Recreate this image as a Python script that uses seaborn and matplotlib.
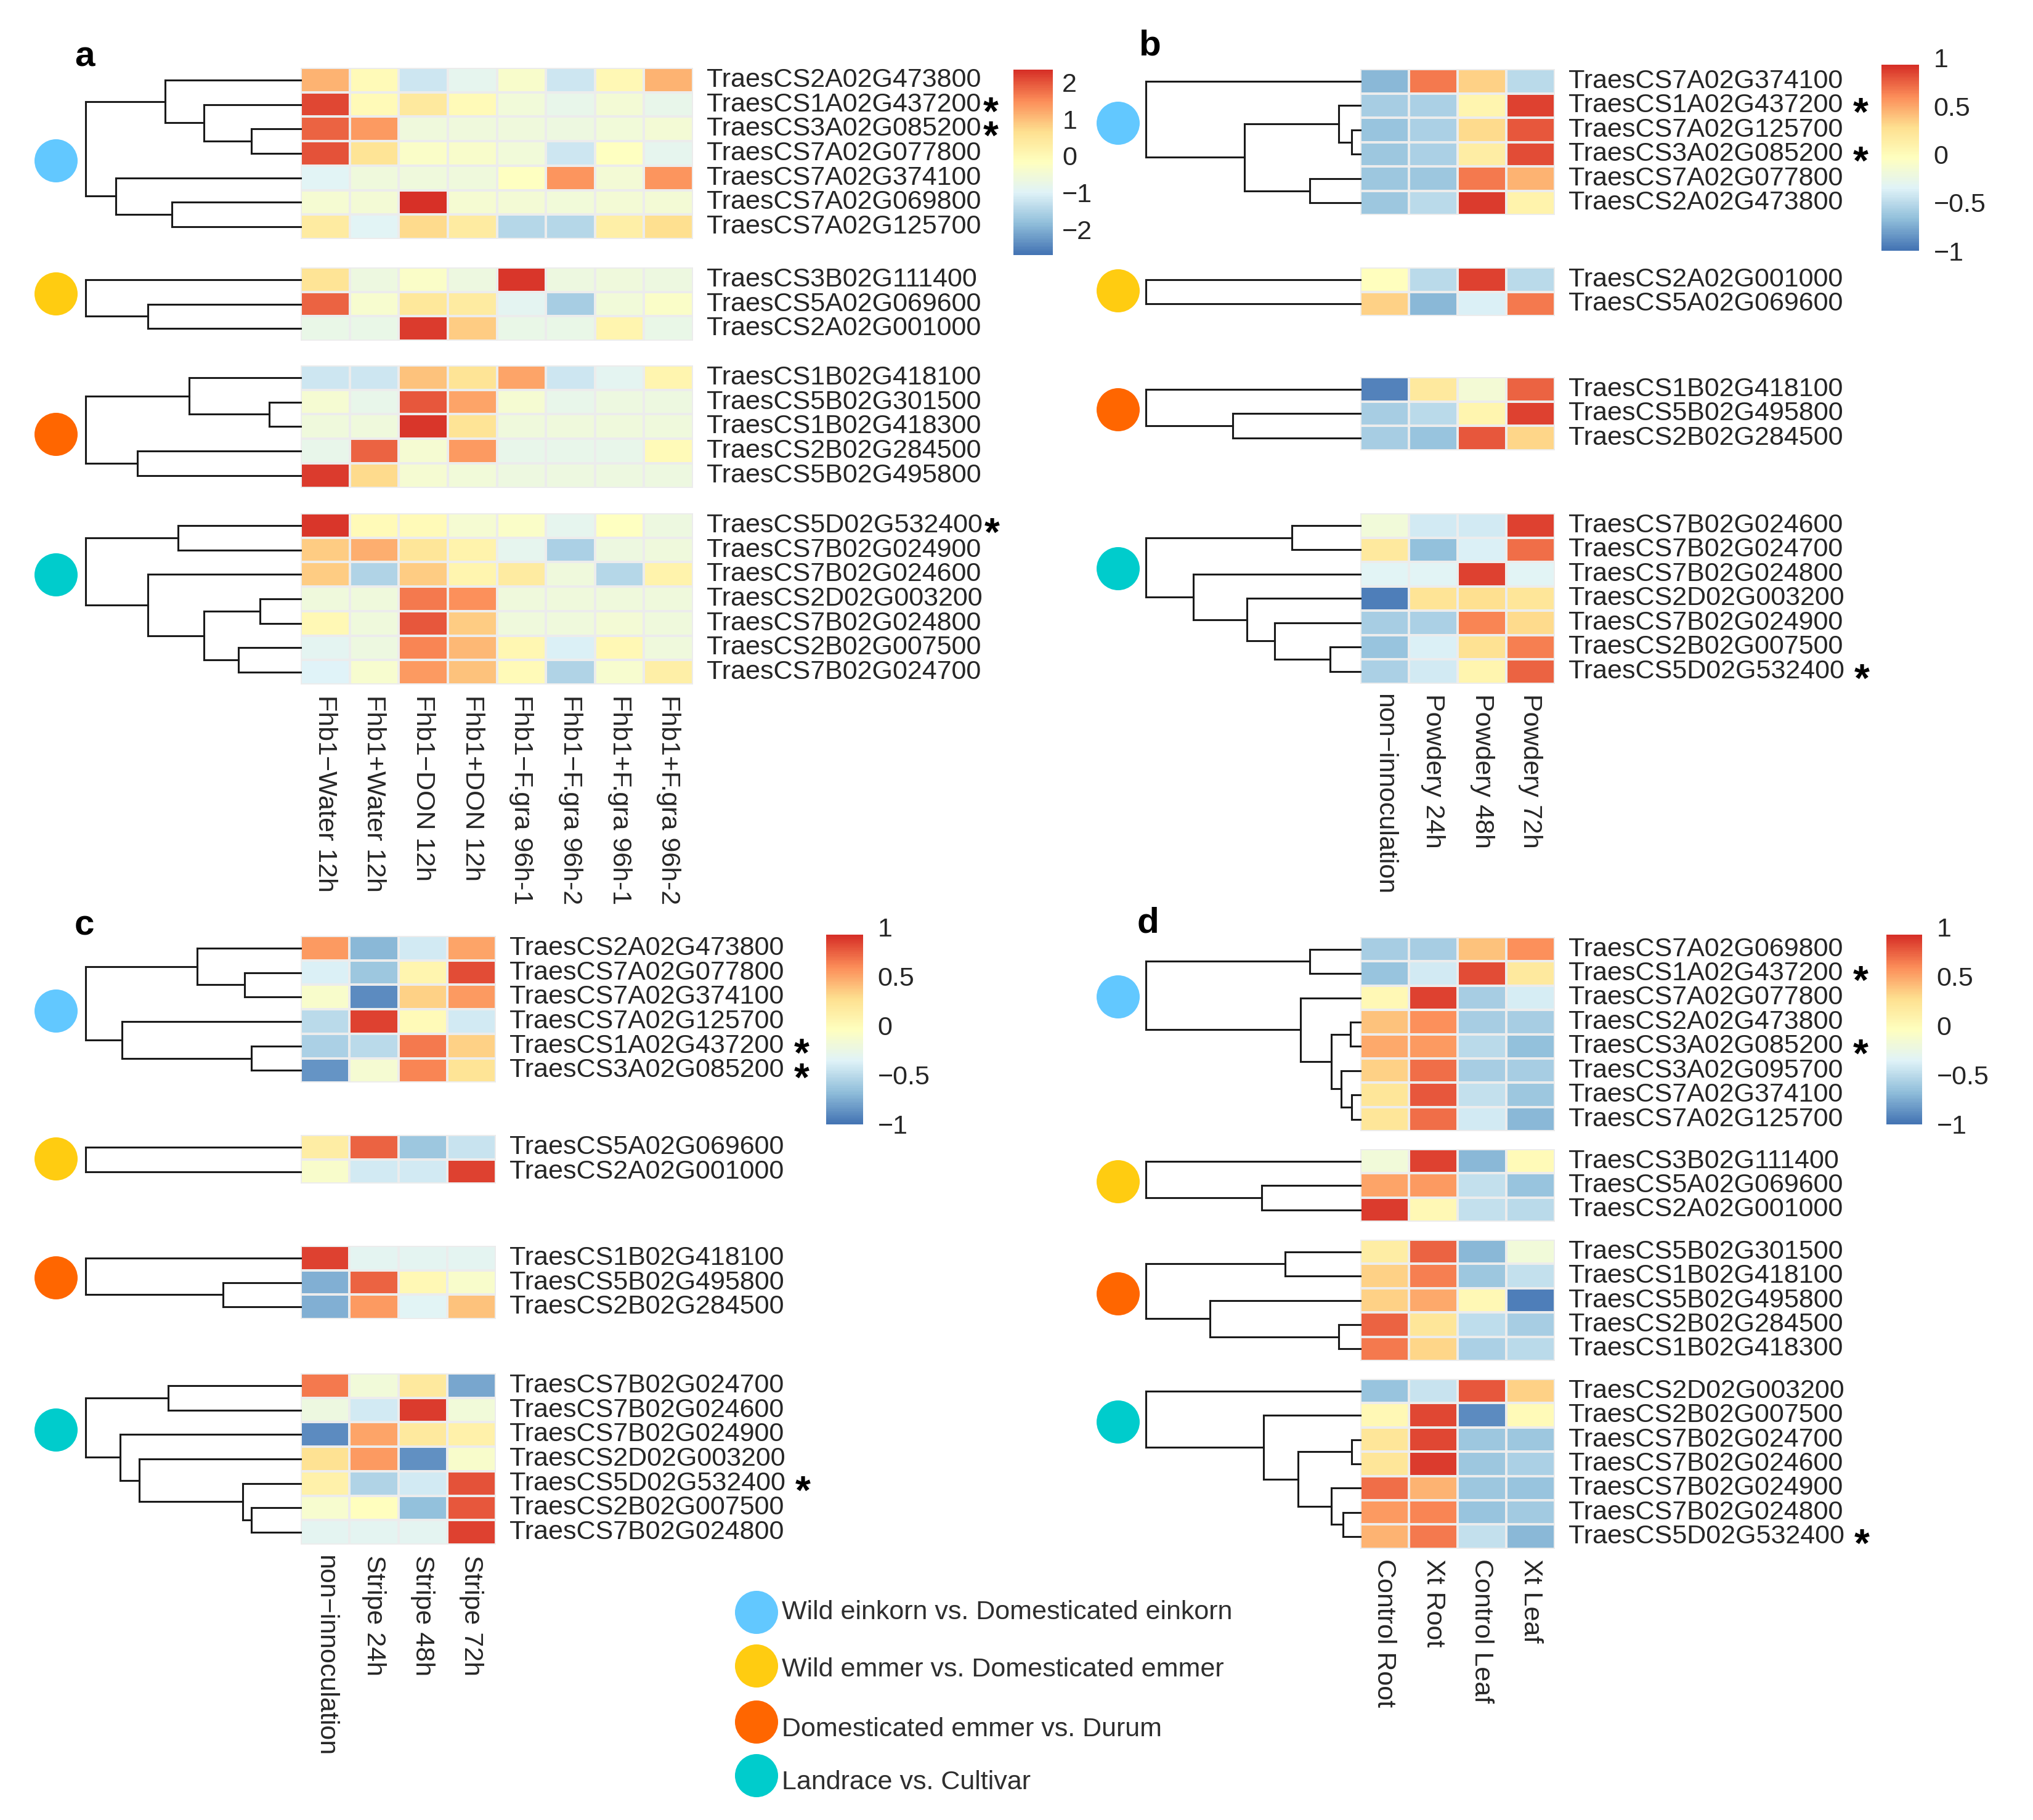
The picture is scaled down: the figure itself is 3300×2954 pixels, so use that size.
import numpy as np
import pandas as pd
import matplotlib
matplotlib.use("Agg")
import matplotlib.pyplot as plt
import seaborn as sns
from matplotlib.colors import LinearSegmentedColormap
from matplotlib.patches import Circle
from matplotlib.font_manager import FontProperties

# ---------------- data ----------------
a_cols = ["Fhb1\u2212Water 12h", "Fhb1+Water 12h", "Fhb1\u2212DON 12h", "Fhb1+DON 12h",
          "Fhb1\u2212F.gra 96h-1", "Fhb1\u2212F.gra 96h-2", "Fhb1+F.gra 96h-1", "Fhb1+F.gra 96h-2"]
b_cols = ["non\u2212innoculation", "Powdery 24h", "Powdery 48h", "Powdery 72h"]
c_cols = ["non\u2212innoculation", "Stripe 24h", "Stripe 48h", "Stripe 72h"]
d_cols = ["Control Root", "Xt Root", "Control Leaf", "Xt Leaf"]

starred = ["TraesCS1A02G437200", "TraesCS3A02G085200", "TraesCS5D02G532400"]

# panel a
a_genes_1 = ["TraesCS2A02G473800", "TraesCS1A02G437200", "TraesCS3A02G085200", "TraesCS7A02G077800",
             "TraesCS7A02G374100", "TraesCS7A02G069800", "TraesCS7A02G125700"]
a_vals_1 = [[1.09, -0.07, -1.19, -0.88, -0.33, -1.19, -0.02, 1.09],
            [2.10, -0.07, 0.43, -0.07, -0.53, -0.83, -0.48, -0.83],
            [1.85, 1.34, -0.58, -0.58, -0.58, -0.68, -0.53, -0.48],
            [2.00, 0.58, -0.28, -0.33, -0.53, -1.19, -0.18, -0.88],
            [-0.98, -0.58, -0.58, -0.58, -0.18, 1.44, -0.48, 1.44],
            [-0.43, -0.48, 2.35, -0.43, -0.48, -0.53, -0.48, -0.48],
            [0.33, -0.98, 0.73, 0.33, -1.44, -1.44, 0.23, 0.68]]
a_tree_1 = [(2, 3, 0.23), (1, 7, 0.45), (0, 8, 0.63), (5, 6, 0.60), (4, 10, 0.86), (9, 11, 1.0)]

a_genes_2 = ["TraesCS3B02G111400", "TraesCS5A02G069600", "TraesCS2A02G001000"]
a_vals_2 = [[0.58, -0.68, -0.28, -0.68, 2.25, -0.68, -0.58, -0.63],
            [1.85, -0.38, 0.48, 0.33, -0.93, -1.59, -0.53, -0.28],
            [-0.78, -0.78, 2.20, 0.84, -0.78, -0.78, 0.08, -0.78]]
a_tree_2 = [(1, 2, 0.71), (0, 3, 1.0)]

a_genes_3 = ["TraesCS1B02G418100", "TraesCS5B02G301500", "TraesCS1B02G418300",
             "TraesCS2B02G284500", "TraesCS5B02G495800"]
a_vals_3 = [[-1.19, -1.19, 0.94, 0.58, 1.24, -1.19, -0.93, 0.08],
            [-0.43, -0.83, 1.95, 1.24, -0.43, -0.83, -0.68, -0.63],
            [-0.58, -0.58, 2.25, 0.58, -0.58, -0.58, -0.58, -0.58],
            [-0.83, 1.85, -0.43, 1.34, -0.83, -0.83, -0.83, -0.07],
            [2.20, 0.73, -0.43, -0.53, -0.68, -0.68, -0.68, -0.68]]
a_tree_3 = [(1, 2, 0.146), (0, 5, 0.52), (3, 4, 0.76), (6, 7, 1.0)]

a_genes_4 = ["TraesCS5D02G532400", "TraesCS7B02G024900", "TraesCS7B02G024600", "TraesCS2D02G003200",
             "TraesCS7B02G024800", "TraesCS2B02G007500", "TraesCS7B02G024700"]
a_vals_4 = [[2.25, -0.07, -0.07, -0.43, -0.28, -0.88, -0.18, -0.63],
            [0.84, 1.14, 0.53, 0.13, -0.88, -1.54, -0.68, -0.58],
            [0.84, -1.49, 0.84, 0.08, 0.33, -0.58, -1.44, 0.13],
            [-0.58, -0.58, 1.69, 1.49, -0.58, -0.58, -0.58, -0.58],
            [-0.02, -0.58, 1.95, 0.84, -0.58, -0.58, -0.48, -0.58],
            [-0.93, -0.63, 1.59, 1.04, 0.03, -1.08, -0.02, -0.58],
            [-1.03, -0.38, 1.34, 0.94, -0.07, -1.49, -0.38, 0.23]]
a_tree_4 = [(0, 1, 0.57), (3, 4, 0.19), (5, 6, 0.29), (8, 9, 0.45), (2, 10, 0.71), (7, 11, 1.0)]

# panel b
b_genes_1 = ["TraesCS7A02G374100", "TraesCS1A02G437200", "TraesCS7A02G125700",
             "TraesCS3A02G085200", "TraesCS7A02G077800", "TraesCS2A02G473800"]
b_vals_1 = [[-0.71, 0.67, 0.34, -0.52],
            [-0.58, -0.56, 0.06, 0.86],
            [-0.65, -0.56, 0.29, 0.77],
            [-0.62, -0.56, 0.15, 0.82],
            [-0.62, -0.62, 0.67, 0.44],
            [-0.62, -0.52, 0.88, 0.08]]
b_tree_1 = [(2, 3, 0.04), (1, 6, 0.10), (4, 5, 0.235), (7, 8, 0.54), (0, 9, 1.0)]

b_genes_2 = ["TraesCS2A02G001000", "TraesCS5A02G069600"]
b_vals_2 = [[-0.04, -0.52, 0.86, -0.52],
            [0.34, -0.71, -0.37, 0.67]]
b_tree_2 = [(0, 1, 1.0)]

b_genes_3 = ["TraesCS1B02G418100", "TraesCS5B02G495800", "TraesCS2B02G284500"]
b_vals_3 = [[-0.94, 0.19, -0.17, 0.73],
            [-0.58, -0.52, 0.06, 0.86],
            [-0.58, -0.65, 0.77, 0.31]]
b_tree_3 = [(1, 2, 0.595), (0, 3, 1.0)]

b_genes_4 = ["TraesCS7B02G024600", "TraesCS7B02G024700", "TraesCS7B02G024800", "TraesCS2D02G003200",
             "TraesCS7B02G024900", "TraesCS2B02G007500", "TraesCS5D02G532400"]
b_vals_4 = [[-0.19, -0.42, -0.42, 0.86],
            [0.19, -0.67, -0.37, 0.69],
            [-0.33, -0.33, 0.86, -0.33],
            [-0.96, 0.23, 0.27, 0.21],
            [-0.58, -0.56, 0.63, 0.29],
            [-0.65, -0.37, 0.25, 0.65],
            [-0.56, -0.42, 0.06, 0.73]]
b_tree_4 = [(0, 1, 0.32), (5, 6, 0.14), (4, 8, 0.40), (3, 9, 0.53), (2, 10, 0.78), (7, 11, 1.0)]

# panel c
c_genes_1 = ["TraesCS2A02G473800", "TraesCS7A02G077800", "TraesCS7A02G374100",
             "TraesCS7A02G125700", "TraesCS1A02G437200", "TraesCS3A02G085200"]
c_vals_1 = [[0.54, -0.71, -0.42, 0.50],
            [-0.37, -0.62, 0.06, 0.82],
            [-0.10, -0.90, 0.34, 0.54],
            [-0.52, 0.86, 0.00, -0.42],
            [-0.56, -0.52, 0.67, 0.34],
            [-0.85, -0.14, 0.63, 0.23]]
c_tree_1 = [(1, 2, 0.26), (0, 6, 0.48), (4, 5, 0.23), (3, 8, 0.83), (7, 9, 1.0)]

c_genes_2 = ["TraesCS5A02G069600", "TraesCS2A02G001000"]
c_vals_2 = [[0.15, 0.73, -0.62, -0.46],
            [-0.10, -0.42, -0.42, 0.86]]
c_tree_2 = [(0, 1, 1.0)]

c_genes_3 = ["TraesCS1B02G418100", "TraesCS5B02G495800", "TraesCS2B02G284500"]
c_vals_3 = [[0.86, -0.31, -0.31, -0.31],
            [-0.75, 0.73, 0.02, -0.10],
            [-0.75, 0.54, -0.33, 0.40]]
c_tree_3 = [(1, 2, 0.36), (0, 3, 1.0)]

c_genes_4 = ["TraesCS7B02G024700", "TraesCS7B02G024600", "TraesCS7B02G024900", "TraesCS2D02G003200",
             "TraesCS5D02G532400", "TraesCS2B02G007500", "TraesCS7B02G024800"]
c_vals_4 = [[0.67, -0.19, 0.19, -0.77],
            [-0.23, -0.42, 0.88, -0.19],
            [-0.90, 0.50, 0.19, 0.11],
            [0.25, 0.54, -0.88, -0.10],
            [0.11, -0.54, -0.42, 0.79],
            [-0.12, -0.04, -0.67, 0.77],
            [-0.31, -0.31, -0.31, 0.86]]
c_tree_4 = [(0, 1, 0.615), (5, 6, 0.23), (4, 8, 0.27), (3, 9, 0.75), (2, 10, 0.84), (7, 11, 1.0)]

# panel d
d_genes_1 = ["TraesCS7A02G069800", "TraesCS1A02G437200", "TraesCS7A02G077800", "TraesCS2A02G473800",
             "TraesCS3A02G085200", "TraesCS3A02G095700", "TraesCS7A02G374100", "TraesCS7A02G125700"]
d_vals_1 = [[-0.58, -0.58, 0.40, 0.59],
            [-0.65, -0.42, 0.82, 0.19],
            [0.02, 0.86, -0.58, -0.39],
            [0.40, 0.59, -0.58, -0.58],
            [0.48, 0.54, -0.52, -0.67],
            [0.34, 0.69, -0.58, -0.58],
            [0.21, 0.77, -0.48, -0.62],
            [0.21, 0.69, -0.42, -0.71]]
d_tree_1 = [(0, 1, 0.235), (3, 4, 0.047), (6, 7, 0.04), (5, 10, 0.088), (9, 11, 0.135),
            (2, 12, 0.28), (8, 13, 1.0)]

d_genes_2 = ["TraesCS3B02G111400", "TraesCS5A02G069600", "TraesCS2A02G001000"]
d_vals_2 = [[-0.19, 0.86, -0.71, 0.00],
            [0.50, 0.54, -0.48, -0.65],
            [0.88, 0.02, -0.48, -0.52]]
d_tree_2 = [(1, 2, 0.46), (0, 3, 1.0)]

d_genes_3 = ["TraesCS5B02G301500", "TraesCS1B02G418100", "TraesCS5B02G495800",
             "TraesCS2B02G284500", "TraesCS1B02G418300"]
d_vals_3 = [[0.15, 0.73, -0.71, -0.19],
            [0.34, 0.65, -0.62, -0.48],
            [0.34, 0.48, 0.02, -0.96],
            [0.73, 0.21, -0.50, -0.58],
            [0.67, 0.31, -0.56, -0.52]]
d_tree_3 = [(0, 1, 0.35), (3, 4, 0.10), (2, 6, 0.70), (5, 7, 1.0)]

d_genes_4 = ["TraesCS2D02G003200", "TraesCS2B02G007500", "TraesCS7B02G024700", "TraesCS7B02G024600",
             "TraesCS7B02G024900", "TraesCS7B02G024800", "TraesCS5D02G532400"]
d_vals_4 = [[-0.65, -0.46, 0.77, 0.34],
            [0.02, 0.84, -0.90, 0.00],
            [0.21, 0.84, -0.62, -0.62],
            [0.21, 0.88, -0.62, -0.56],
            [0.69, 0.44, -0.62, -0.65],
            [0.54, 0.63, -0.64, -0.60],
            [0.44, 0.67, -0.48, -0.71]]
d_tree_4 = [(2, 3, 0.04), (5, 6, 0.08), (4, 8, 0.135), (7, 9, 0.29), (1, 10, 0.45), (0, 11, 1.0)]

group_names = ["Wild einkorn vs. Domesticated einkorn", "Wild emmer vs. Domesticated emmer",
               "Domesticated emmer vs. Durum", "Landrace vs. Cultivar"]
group_colors = ["#62c8ff", "#ffcc11", "#ff6600", "#00cccc"]

# ---------------- layout ----------------
W, H = 3300, 2954
FS = 31
LINE = "#1a1a1a"

sns.set_style("white")
plt.rcParams["font.family"] = ["Liberation Sans", "DejaVu Sans"]

cmap = LinearSegmentedColormap.from_list(
    "rdylbu_r", ["#4575B4", "#91BFDB", "#E0F3F8", "#FFFFBF", "#FEE090", "#FC8D59", "#D73027"], N=100)

fig = plt.figure(figsize=(W / 100, H / 100), dpi=100, facecolor="white")

overlay = fig.add_axes([0, 0, 1, 1])
overlay.set_xlim(0, W)
overlay.set_ylim(H, 0)
overlay.axis("off")


def box(x0, y0, x1, y1):
    return fig.add_axes([x0 / W, 1 - y1 / H, (x1 - x0) / W, (y1 - y0) / H])


def draw_tree(ax, n, merges):
    ypos = [i + 0.5 for i in range(n)]
    hpos = [0.0] * n
    for i, j, h in merges:
        for k in (i, j):
            ax.plot([hpos[k], h], [ypos[k], ypos[k]], color=LINE, lw=2.2,
                    solid_capstyle="projecting", clip_on=False)
        ax.plot([h, h], [ypos[i], ypos[j]], color=LINE, lw=2.2,
                solid_capstyle="projecting", clip_on=False)
        ypos.append((ypos[i] + ypos[j]) / 2)
        hpos.append(h)
    ax.set_xlim(1, 0)
    ax.set_ylim(n, 0)
    ax.axis("off")


panels = [
    dict(letter="a", cols=a_cols, vmin=-2.7, vmax=2.35,
         groups=[(a_genes_1, a_vals_1, a_tree_1), (a_genes_2, a_vals_2, a_tree_2),
                 (a_genes_3, a_vals_3, a_tree_3), (a_genes_4, a_vals_4, a_tree_4)],
         heat_x=(488, 1125), root_x=139, tops=[110, 434, 593, 833], row_h=39.7,
         circ_x=91, circ_y=[261, 477, 705, 933], letter_xy=(121, 107), star_gap=3,
         cbar_x=(1645, 1709), cbar_zero=253, cbar_unit=59.75, cbar_top=2.35, cbar_pad=11,
         ticks=[2, 1, 0, -1, -2], ticklabels=["2", "1", "0", "\u22121", "\u22122"]),
    dict(letter="b", cols=b_cols, vmin=-1.0, vmax=0.92,
         groups=[(b_genes_1, b_vals_1, b_tree_1), (b_genes_2, b_vals_2, b_tree_2),
                 (b_genes_3, b_vals_3, b_tree_3), (b_genes_4, b_vals_4, b_tree_4)],
         heat_x=(2208, 2524), root_x=1860, tops=[112, 434, 612, 833], row_h=39.5,
         circ_x=1815, circ_y=[200, 472, 665, 923], letter_xy=(1848, 90), star_gap=16,
         cbar_x=(3054, 3115), cbar_zero=250.5, cbar_unit=157, cbar_top=1.01, cbar_pad=17,
         ticks=[1, 0.5, 0, -0.5, -1], ticklabels=["1", "0.5", "0", "\u22120.5", "\u22121"]),
    dict(letter="c", cols=c_cols, vmin=-1.0, vmax=0.92,
         groups=[(c_genes_1, c_vals_1, c_tree_1), (c_genes_2, c_vals_2, c_tree_2),
                 (c_genes_3, c_vals_3, c_tree_3), (c_genes_4, c_vals_4, c_tree_4)],
         heat_x=(488, 805), root_x=139, tops=[1519, 1842, 2022, 2229], row_h=39.7,
         circ_x=91, circ_y=[1641, 1881, 2074, 2321], letter_xy=(121, 1517), star_gap=16,
         cbar_x=(1341, 1401), cbar_zero=1665, cbar_unit=160, cbar_top=1.01, cbar_pad=17,
         ticks=[1, 0.5, 0, -0.5, -1], ticklabels=["1", "0.5", "0", "\u22120.5", "\u22121"]),
    dict(letter="d", cols=d_cols, vmin=-1.0, vmax=0.92,
         groups=[(d_genes_1, d_vals_1, d_tree_1), (d_genes_2, d_vals_2, d_tree_2),
                 (d_genes_3, d_vals_3, d_tree_3), (d_genes_4, d_vals_4, d_tree_4)],
         heat_x=(2208, 2524), root_x=1860, tops=[1521, 1865, 2012, 2238], row_h=39.4,
         circ_x=1815, circ_y=[1618, 1918, 2100, 2308], letter_xy=(1846, 1514), star_gap=16,
         cbar_x=(3062, 3120), cbar_zero=1665, cbar_unit=160, cbar_top=1.01, cbar_pad=17,
         ticks=[1, 0.5, 0, -0.5, -1], ticklabels=["1", "0.5", "0", "\u22120.5", "\u22121"]),
]

star_runs = []  # (axes, first row, run length, centre y of first row, row height, gap)

for p in panels:
    hx0, hx1 = p["heat_x"]
    overlay.text(p["letter_xy"][0], p["letter_xy"][1], p["letter"], fontsize=42,
                 fontweight="bold", ha="left", va="baseline", color="black")
    for g, (genes, vals, tree) in enumerate(p["groups"]):
        n = len(genes)
        top = p["tops"][g]
        bot = top + n * p["row_h"]
        last = g == len(p["groups"]) - 1

        df = pd.DataFrame(vals, index=genes, columns=p["cols"])
        ax = box(hx0, top, hx1, bot)
        sns.heatmap(df, ax=ax, cmap=cmap, vmin=p["vmin"], vmax=p["vmax"], cbar=False,
                    linewidths=1.5, linecolor="#ececec",
                    xticklabels=p["cols"] if last else False, yticklabels=genes)
        ax.set_xlabel("")
        ax.set_ylabel("")
        ax.yaxis.tick_right()
        ax.set_yticklabels(genes, rotation=0, fontsize=FS, ha="left", va="center")
        ax.tick_params(axis="y", length=0, pad=16, left=False, right=False,
                       labelleft=False, labelright=True)
        if last:
            ax.set_xticklabels(p["cols"], rotation=270, fontsize=FS, ha="center", va="top")
            ax.tick_params(axis="x", length=0, pad=12)

        # consecutive marked genes share one asterisk text
        i = 0
        while i < n:
            if genes[i] in starred:
                k = 1
                while i + k < n and genes[i + k] in starred:
                    k += 1
                star_runs.append((ax, i, k, top + (i + 0.5) * p["row_h"], p["row_h"], p["star_gap"]))
                i += k
            else:
                i += 1

        tax = box(p["root_x"], top, hx0, bot)
        draw_tree(tax, n, tree)

        overlay.add_patch(Circle((p["circ_x"], p["circ_y"][g]), 35,
                                 facecolor=group_colors[g], edgecolor="none"))

    # colour key
    cx0, cx1 = p["cbar_x"]
    z, u = p["cbar_zero"], p["cbar_unit"]
    cax = box(cx0, z - p["cbar_top"] * u, cx1, z - p["vmin"] * u)
    grad = np.linspace(p["vmin"], p["vmax"], 256)[:, None]
    cax.imshow(grad, aspect="auto", cmap=cmap, vmin=p["vmin"], vmax=p["vmax"],
               origin="lower", extent=[0, 1, p["vmin"], p["vmax"]])
    cax.set_xlim(0, 1)
    cax.set_ylim(p["vmin"], p["cbar_top"])
    for s in cax.spines.values():
        s.set_visible(False)
    cax.set_xticks([])
    cax.yaxis.tick_right()
    cax.set_yticks(p["ticks"])
    cax.set_yticklabels(p["ticklabels"], fontsize=FS)
    cax.tick_params(axis="y", length=0, pad=p["cbar_pad"], left=False, right=False,
                    labelleft=False, labelright=True)

# legend
leg_circ_y = [2617, 2704, 2795, 2882]
leg_text_y = [2617, 2710, 2807, 2893]
for k in range(4):
    overlay.add_patch(Circle((1228, leg_circ_y[k]), 35, facecolor=group_colors[k], edgecolor="none"))
    overlay.text(1269, leg_text_y[k], group_names[k], fontsize=FS, color="#2e2e2e",
                 ha="left", va="center")

# asterisks after the marked gene labels
fig.canvas.draw()
renderer = fig.canvas.get_renderer()
star_fp = FontProperties(family="Liberation Sans", weight="bold", size=46)
_, lp_h, lp_d = renderer.get_text_width_height_descent("lp", star_fp, ismath=False)
asc = lp_h - lp_d
for ax, i0, k, yc, rh, gap in star_runs:
    ticks = ax.yaxis.get_major_ticks()
    x_end = max(ticks[i].label2.get_window_extent(renderer).x1 for i in range(i0, i0 + k))
    baseline = yc + 33
    overlay.text(x_end + gap, baseline - asc, "\n".join(["*"] * k), fontproperties=star_fp,
                 linespacing=(rh - lp_d) / asc, ha="left", va="top", color="black")

fig.savefig("out.png", dpi=100, facecolor="white")
